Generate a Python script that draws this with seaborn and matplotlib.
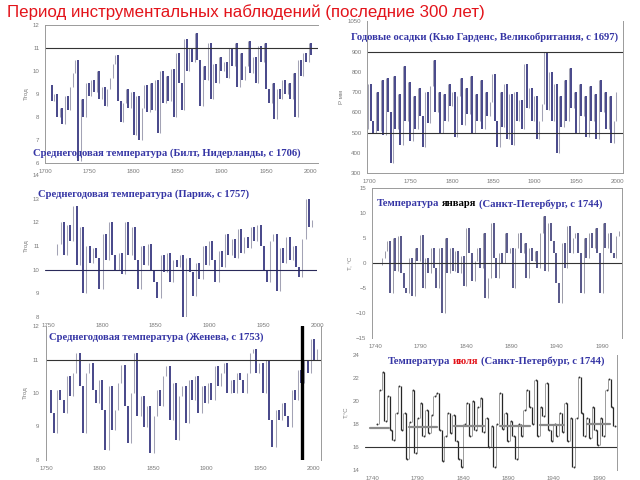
import numpy as np
import pandas as pd
import matplotlib
matplotlib.use("Agg")
import matplotlib.pyplot as plt
import seaborn as sns

sns.set_theme(style="white")
plt.rcParams['font.family'] = ['Liberation Sans', 'DejaVu Sans']

# ---------------- data ----------------
main_title = "Период инструментальных наблюдений (последние 300 лет)"

bilt_title = "Среднегодовая температура (Билт, Нидерланды, с 1706)"
bilt_start, bilt_step = 1706, 3
bilt_vals = [9.4, 8.7, 9.0, 8.0, 8.4, 7.7, 8.9, 8.3, 9.3, 9.9,
             10.5, 6.1, 8.8, 8.0, 9.5, 8.9, 9.6, 9.1, 10.0, 8.8,
             9.3, 8.5, 9.2, 9.7, 10.3, 10.7, 8.7, 7.8, 8.6, 9.2,
             8.4, 9.1, 7.2, 8.9, 7.0, 8.4, 9.4, 8.2, 9.5, 8.3,
             9.6, 7.3, 10.0, 8.6, 9.8, 8.7, 10.1, 8.0, 10.8, 9.5,
             8.3, 11.4, 10.0, 11.0, 10.4, 11.65, 10.5, 8.5, 10.2, 9.6,
             11.2, 8.8, 10.3, 9.5, 10.6, 10.0, 10.4, 9.7, 11.0, 10.2,
             11.2, 9.3, 10.8, 9.6, 10.2, 11.3, 9.9, 10.6, 9.5, 11.1,
             10.4, 11.2, 9.2, 8.6, 9.5, 7.9, 9.2, 8.8, 9.6, 9.0,
             9.5, 8.8, 9.9, 8.0, 10.5, 9.8, 10.8, 10.4, 11.2, 10.7]
bilt_ref = 11
bilt_xticks = [1700, 1750, 1800, 1850, 1900, 1950, 2000]
bilt_yticks = [6, 7, 8, 9, 10, 11, 12]

kew_title = "Годовые осадки (Кью Гарденс, Великобритания, с 1697)"
kew_start, kew_step = 1697, 3
kew_vals = [520, 740, 560, 500, 700, 510, 760, 490, 770, 600,
            350, 780, 520, 690, 440, 830, 560, 750, 460, 680,
            520, 720, 580, 430, 700, 550, 730, 860, 600, 700,
            500, 690, 560, 740, 630, 700, 480, 680, 770, 540,
            720, 590, 780, 500, 690, 560, 760, 520, 700, 580,
            650, 790, 560, 430, 700, 530, 740, 470, 690, 440,
            700, 560, 660, 520, 840, 620, 720, 560, 680, 470,
            560, 640, 900, 610, 800, 560, 740, 400, 680, 530,
            760, 560, 820, 620, 700, 500, 740, 580, 680, 480,
            730, 560, 690, 470, 760, 600, 700, 520, 680, 450, 560, 700]
kew_refs = [900, 500]
kew_xticks = [1700, 1750, 1800, 1850, 1900, 1950, 2000]
kew_yticks = [300, 400, 500, 600, 700, 800, 900, 1050]

paris_title = "Среднегодовая температура (Париж, с 1757)"
paris_start, paris_step = 1757, 3
paris_vals = [10.6, 11.1, 12.0, 10.6, 11.9, 11.2, 12.7, 10.2, 11.8, 9.0,
              11.0, 10.3, 10.9, 10.5, 9.2, 11.5, 10.4, 12.0, 10.6, 10.0,
              10.7, 9.8, 12.0, 10.6, 11.8, 10.4, 9.2, 11.0, 10.2, 11.1,
              10.0, 9.5, 8.8, 10.6, 9.9, 10.7, 9.5, 10.4, 10.1, 10.6,
              8.0, 10.5, 9.9, 8.9, 10.3, 9.6, 11.0, 10.2, 11.2, 10.4,
              9.5, 10.8, 10.1, 11.5, 10.6, 11.3, 10.5, 11.7, 10.7, 11.4,
              10.9, 11.8, 11.2, 11.9, 11.0, 10.0, 9.5, 11.2, 11.5, 9.1,
              10.9, 10.3, 11.4, 10.4, 11.0, 10.1, 9.7, 11.3, 13.0, 11.8, 12.1]
paris_ref = 10
paris_xticks = [1750, 1800, 1850, 1900, 1950, 2000]
paris_yticks = [8, 9, 10, 11, 12, 13, 14]

geneva_title = "Среднегодовая температура (Женева, с 1753)"
geneva_start, geneva_step = 1753, 3
geneva_vals = [10.1, 9.4, 8.8, 10.1, 9.8, 9.4, 10.5, 9.9, 10.6, 11.2,
               10.2, 8.8, 10.6, 10.9, 10.1, 9.7, 10.4, 9.5, 8.3, 10.2,
               8.9, 9.5, 10.3, 10.85, 9.6, 8.5, 10.0, 11.2, 9.3, 9.9,
               9.0, 9.6, 8.2, 9.3, 10.1, 9.6, 10.5, 10.8, 9.2, 10.3,
               8.6, 9.9, 10.2, 9.1, 10.4, 9.8, 10.5, 9.4, 10.2, 9.7,
               10.3, 9.8, 10.8, 10.2, 10.6, 10.9, 10.0, 10.4, 10.0, 10.6,
               10.4, 10.0, 10.6, 11.2, 11.3, 10.6, 10.9, 10.0, 11.0, 9.2,
               8.4, 9.5, 9.2, 9.7, 9.3, 9.0, 10.1, 9.8, 10.7, 10.3,
               11.0, 10.6, 11.6, 11.0, 11.3]
geneva_ref = 11
geneva_marker_year = 1989
geneva_xticks = [1750, 1800, 1850, 1900, 1950, 2000]
geneva_yticks = [8, 9, 10, 11, 12]

jan_parts = ["Температура", "января", "(Санкт-Петербург, с 1744)"]
jan_start, jan_step = 1746, 3
jan_vals = [-0.3, 1.0, 2.5, 4.5, -6.0, 5.0, -1.5, 5.5, -2.0, -5.0,
            -6.0, 1.0, -6.5, 3.0, 0.5, 5.7, -5.0, 1.0, -2.0, 3.0,
            -1.0, -5.0, 3.0, -10.0, 5.0, -2.0, 3.0, -1.5, 2.5, -2.0,
            1.5, -4.5, 7.0, 2.0, -3.5, 0.5, 3.0, -1.0, 6.0, -7.0,
            -3.0, 8.0, 1.0, -3.0, 2.0, 0.0, 6.0, 2.0, 3.0, -5.0,
            3.0, 6.0, 2.0, 4.0, -3.0, 3.0, 0.5, 2.5, -1.0, 6.0,
            9.5, -1.5, 8.0, 4.5, 2.0, -4.0, -8.0, 4.0, -1.0, 7.5,
            2.0, 5.0, 6.0, 2.0, -6.0, 5.0, 1.0, 6.0, 3.0, 7.0,
            2.0, -6.0, 8.0, 3.0, 6.0, 2.0, 1.0, 5.5, 6.5]
jan_ref = 0
jan_xticks = [1740, 1790, 1840, 1890, 1940, 1990]
jan_yticks = [-15, -10, -5, 0, 5, 10, 15]

jul_parts = ["Температура", "июля", "(Санкт-Петербург, с 1744)"]
jul_start, jul_step = 1746, 3
jul_vals = [18.0, 21.0, 22.5, 18.3, 20.4, 17.5, 16.6, 19.0, 21.3, 17.5,
            19.0, 15.0, 18.2, 21.0, 15.5, 18.5, 19.8, 17.0, 19.2, 17.2,
            18.8, 20.4, 20.7, 17.5, 14.8, 17.0, 19.0, 17.2, 18.8, 16.5,
            15.0, 14.3, 18.0, 19.8, 17.0, 20.0, 17.5, 19.5, 20.3, 17.3,
            18.5, 16.0, 17.8, 14.3, 18.0, 20.7, 17.6, 19.0, 16.5, 18.3,
            17.0, 15.0, 18.0, 17.0, 19.2, 21.0, 19.5, 18.0, 21.8, 17.0,
            19.5, 18.7, 21.6, 17.5, 16.5, 18.0, 17.0, 19.0, 17.3, 19.8,
            16.5, 18.5, 14.3, 18.5, 22.1, 19.0, 17.0, 18.5, 16.8, 19.5,
            17.5, 16.2, 18.5, 17.0, 21.0, 21.9, 19.5, 17.8]
jul_mean_start = [1738, 1781, 1830, 1881, 1925, 1977]
jul_mean_end = [1759, 1812, 1863, 1914, 1951, 2002]
jul_mean_val = [17.65, 17.7, 17.8, 17.85, 17.95, 18.0]
jul_ref = 16
jul_xticks = [1740, 1790, 1840, 1890, 1940, 1990]
jul_yticks = [14, 16, 18, 20, 22, 24]

# ---------------- styling ----------------
W, H = 640, 480
BLUE = "#3535a5"
RED = "#e3141b"
NAVY = "#1e1e70"
GRAY = "#a3a3b5"
TICK_C = "#7a7a7a"
TFS = 4.4
TITLE_KW = dict(fontfamily=["Liberation Serif", "DejaVu Serif"], fontweight="bold", fontsize=7.65)

fig = plt.figure(figsize=(6.4, 4.8), dpi=100)
fig.patch.set_facecolor("white")


def ax_px(x0, y0, x1, y1):
    a = fig.add_axes([x0 / W, 1 - y1 / H, (x1 - x0) / W, (y1 - y0) / H])
    a.set_facecolor("none")
    a.tick_params(labelsize=TFS, colors=TICK_C, length=2, width=0.5, pad=2)
    for s in a.spines.values():
        s.set_color("#9a9a9a")
        s.set_linewidth(0.7)
    return a


def draw_bars(a, start, step, vals, up_c=GRAY, dn_c=NAVY, up_lw=0.75, dn_lw=1.15):
    v = np.asarray(vals, float)
    yrs = start + step * np.arange(len(v))
    x = yrs[:-1] + step / 2.0
    lo = np.minimum(v[:-1], v[1:])
    hi = np.maximum(v[:-1], v[1:])
    down = v[1:] < v[:-1]
    a.vlines(x[~down], lo[~down], hi[~down], color=up_c, lw=up_lw)
    a.vlines(x[down], lo[down], hi[down], color=dn_c, lw=dn_lw)
    return yrs


def spines(a, show):
    for k, s in a.spines.items():
        s.set_visible(k in show)


def mixed_text(x_px, y_px, parts, colors, **kw):
    r = fig.canvas.get_renderer()

    def w(s):
        t = fig.text(0, 0, s, **kw)
        bb = t.get_window_extent(renderer=r)
        t.remove()
        return bb.width
    sp = w("н н") - w("нн")
    x = x_px
    for s, c in zip(parts, colors):
        t = fig.text(x / W, 1 - y_px / H, s, color=c, ha="left", va="center", **kw)
        x += t.get_window_extent(renderer=r).width + sp


# main title
fig.text(7 / W, 1 - 12 / H, main_title, color=RED, fontsize=12.2,
         fontfamily=["Liberation Sans", "DejaVu Sans"], ha="left", va="center")

# 1. Bilt
a1 = ax_px(45, 25, 318, 163)
draw_bars(a1, bilt_start, bilt_step, bilt_vals)
a1.axhline(bilt_ref, color="#333333", lw=0.8)
a1.set_xlim(1700, 2009)
a1.set_ylim(6, 12)
a1.set_xticks(bilt_xticks)
a1.set_yticks(bilt_yticks)
a1.set_ylabel("Тгод", fontsize=TFS, color=TICK_C, labelpad=3)
spines(a1, ["left", "top", "bottom"])
fig.text(33 / W, 1 - 153 / H, bilt_title, color=BLUE, ha="left", va="center", **TITLE_KW)

# 2. Kew
a2 = ax_px(367, 21.3, 623, 173.2)
draw_bars(a2, kew_start, kew_step, kew_vals)
for r in kew_refs:
    a2.axhline(r, color="#333333", lw=0.8)
a2.set_xlim(1697, 2007)
a2.set_ylim(300, 1050)
a2.set_xticks(kew_xticks)
a2.set_yticks(kew_yticks)
a2.set_ylabel("P мм", fontsize=TFS, color=TICK_C, labelpad=3)
spines(a2, ["left", "right", "bottom"])
fig.text(351 / W, 1 - 37 / H, kew_title, color=BLUE, ha="left", va="center", **TITLE_KW)

# 3. Paris
a3 = ax_px(45, 175, 317, 317)
draw_bars(a3, paris_start, paris_step, paris_vals)
a3.axhline(paris_ref, color="#2a2a5a", lw=0.8)
a3.set_xlim(1747, 2000)
a3.set_ylim(8, 14)
a3.set_xticks(paris_xticks)
a3.set_yticks(paris_yticks)
a3.set_ylabel("Тгод", fontsize=TFS, color=TICK_C, labelpad=3)
spines(a3, [])
fig.text(38 / W, 1 - 194 / H, paris_title, color=BLUE, ha="left", va="center", **TITLE_KW)

# 4. January, St Petersburg
a4 = ax_px(372, 188, 622, 338)
draw_bars(a4, jan_start, jan_step, jan_vals, up_c="#9a9aa8", dn_c="#2a2a6a", up_lw=0.7, dn_lw=1.1)
a4.axhline(jan_ref, color="#333333", lw=0.8)
a4.set_xlim(1736.7, 2011.7)
a4.set_ylim(-15, 15)
a4.set_xticks(jan_xticks)
a4.set_yticks(jan_yticks)
a4.set_ylabel("T, °C", fontsize=TFS, color=TICK_C, labelpad=3)
spines(a4, ["left", "top", "right"])

# 5. Geneva
a5 = ax_px(46, 326, 321, 460)
draw_bars(a5, geneva_start, geneva_step, geneva_vals)
a5.axhline(geneva_ref, color="#333333", lw=0.8)
a5.axvline(geneva_marker_year, color="black", lw=2.4)
a5.set_xlim(1750, 2007)
a5.set_ylim(8, 12)
a5.set_xticks(geneva_xticks)
a5.set_yticks(geneva_yticks)
a5.tick_params(axis="y", pad=3)
a5.set_ylabel("Тгод", fontsize=TFS, color=TICK_C, labelpad=3)
spines(a5, ["left", "right"])
fig.text(49 / W, 1 - 337 / H, geneva_title, color=BLUE, ha="left", va="center", **TITLE_KW)

# 6. July, St Petersburg
a6 = ax_px(365, 355, 617, 470)
jyrs = draw_bars(a6, jul_start, jul_step, jul_vals, up_c="#8c8c8c", dn_c="#262626", up_lw=0.6, dn_lw=0.9)
dots = pd.DataFrame({"year": jyrs, "t": jul_vals})
sns.scatterplot(data=dots, x="year", y="t", ax=a6, s=2, color="#333333", linewidth=0, legend=False)
seg = pd.DataFrame({
    "year": jul_mean_start + jul_mean_end,
    "t": jul_mean_val + jul_mean_val,
    "seg": list(range(len(jul_mean_val))) * 2,
})
sns.lineplot(data=seg, x="year", y="t", units="seg", estimator=None, ax=a6,
             color="#8a8a8a", lw=1.6, legend=False)
a6.axhline(jul_ref, color="#333333", lw=0.8)
a6.set_xlim(1732.3, 2009.5)
a6.set_ylim(14, 24)
a6.set_xticks(jul_xticks)
a6.set_yticks(jul_yticks)
a6.set_xlabel("")
a6.set_ylabel("T,°C", fontsize=TFS, color=TICK_C, labelpad=3)
spines(a6, ["right"])

mixed_text(377, 204, jan_parts, [BLUE, "black", BLUE], **TITLE_KW)
mixed_text(388, 361, jul_parts, [BLUE, RED, BLUE], **TITLE_KW)

fig.savefig("out.png", dpi=100, facecolor="white")
